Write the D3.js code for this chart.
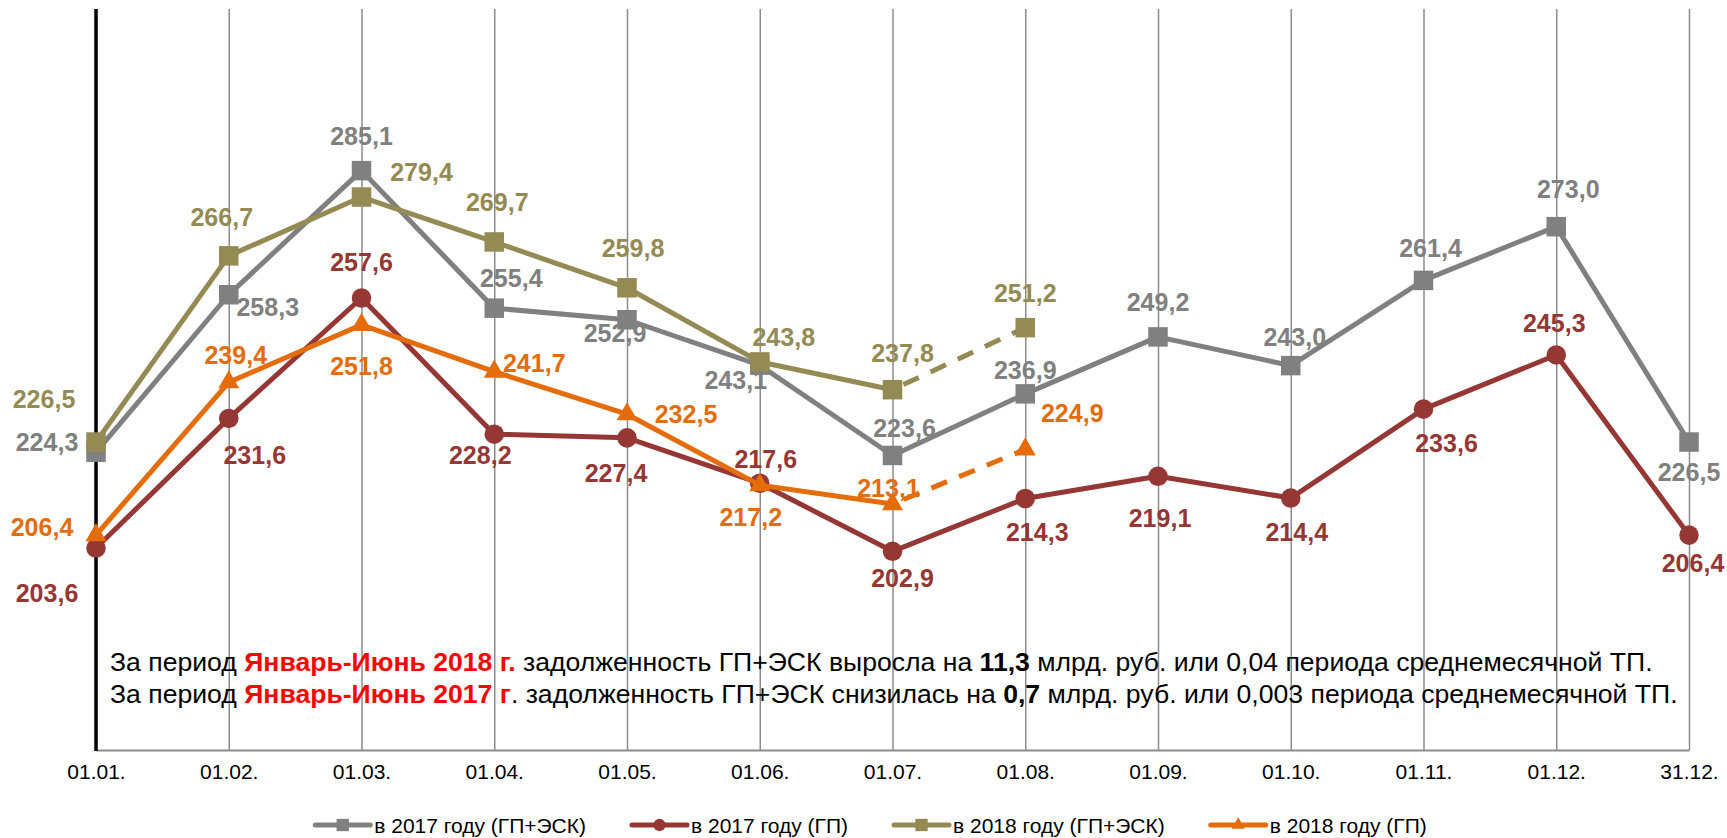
<!DOCTYPE html>
<html>
<head>
<meta charset="utf-8">
<script src="https://cdn.jsdelivr.net/npm/d3@7"></script>
<style>
  body { margin: 0; background: #fff; }
  svg { display: block; font-family: 'Liberation Sans', Arial, sans-serif; }
</style>
</head>
<body>
<svg id="chart" width="1727" height="838"></svg>
<script>
// dates on the x axis
const dates = ['01.01.', '01.02.', '01.03.', '01.04.', '01.05.', '01.06.', '01.07.', '01.08.', '01.09.', '01.10.', '01.11.', '01.12.', '31.12.']

// debt values, bln rub
const total2017 = [224.3, 258.3, 285.1, 255.4, 252.9, 243.1, 223.6, 236.9, 249.2, 243.0, 261.4, 273.0, 226.5]
const gp2017 = [203.6, 231.6, 257.6, 228.2, 227.4, 217.6, 202.9, 214.3, 219.1, 214.4, 233.6, 245.3, 206.4]
const total2018 = [226.5, 266.7, 279.4, 269.7, 259.8, 243.8, 237.8, 251.2]
const gp2018 = [206.4, 239.4, 251.8, 241.7, 232.5, 217.2, 213.1, 224.9]

const legendNames = ['в 2017 году (ГП+ЭСК)', 'в 2017 году (ГП)', 'в 2018 году (ГП+ЭСК)', 'в 2018 году (ГП)']

// where each value label sits relative to its point (px)
const labelOffsets = {
  total2017: [[-49, -10], [39, 12], [0, -35], [17, -30], [-12, 13], [-24, 15], [12, -27], [0, -24], [0, -35], [4, -29], [7, -32], [12, -38], [0, 30]],
  gp2017: [[-49, 45], [26, 37], [0, -36], [-14, 21], [-11, 35], [6, -24], [10, 27], [12, 33], [2, 42], [6, 34], [23, 34], [-2, -32], [4, 28]],
  total2018: [[-52, -43], [-7, -39], [60, -25], [3, -40], [6, -40], [24, -25], [10, -37], [0, -35]],
  gp2018: [[-54, -8], [7, -27], [0, 41], [40, -9], [59, 0], [-9, 32], [-4, -16], [47, -36]],
}

const series = [
  { key: 'total2017', values: total2017, color: '#808080', symbol: d3.symbolSquare, size: 380 },
  { key: 'gp2017', values: gp2017, color: '#953735', symbol: d3.symbolCircle, size: 300 },
  { key: 'total2018', values: total2018, color: '#948A54', symbol: d3.symbolSquare, size: 380, dashFrom: 6 },
  { key: 'gp2018', values: gp2018, color: '#E46C0A', symbol: d3.symbolTriangle, size: 190, dashFrom: 6 },
]

const svg = d3.select('#chart')
const plotTop = 9, plotBottom = 750, plotLeft = 96, plotRight = 1689

const x = d3.scalePoint().domain(dates).range([plotLeft, plotRight])
const y = d3.scaleLinear().domain([160, 320]).range([plotBottom, plotTop])

// vertical gridlines + category axis
const xAxis = svg
  .append('g')
  .attr('transform', `translate(0,${plotBottom})`)
  .call(d3.axisBottom(x).tickSize(-(plotBottom - plotTop)).tickSizeOuter(0).tickPadding(14))
xAxis.select('.domain').attr('stroke', '#8c8c8c').attr('stroke-width', 2)
xAxis.selectAll('.tick line').attr('stroke', '#8c8c8c').attr('stroke-width', 1.5)
xAxis
  .selectAll('.tick text')
  .attr('font-family', "'Liberation Sans', Arial, sans-serif")
  .attr('font-size', 21)
  .attr('fill', '#000')

// the black value axis line on the left
svg
  .append('line')
  .attr('x1', plotLeft)
  .attr('x2', plotLeft)
  .attr('y1', plotTop)
  .attr('y2', plotBottom + 1)
  .attr('stroke', '#000')
  .attr('stroke-width', 3.5)

const line = d3
  .line()
  .x((d) => x(d.date))
  .y((d) => y(d.value))

series.forEach((s) => {
  const pts = s.values.map((v, i) => ({ date: dates[i], value: v }))
  const solid = s.dashFrom != null ? pts.slice(0, s.dashFrom + 1) : pts
  svg
    .append('path')
    .datum(solid)
    .attr('d', line)
    .attr('fill', 'none')
    .attr('stroke', s.color)
    .attr('stroke-width', 5)
    .attr('stroke-linejoin', 'round')
  if (s.dashFrom != null) {
    svg
      .append('path')
      .datum(pts.slice(s.dashFrom))
      .attr('d', line)
      .attr('fill', 'none')
      .attr('stroke', s.color)
      .attr('stroke-width', 5)
      .attr('stroke-dasharray', '17,13')
      .attr('stroke-dashoffset', -12)
  }
  svg
    .append('g')
    .selectAll('path')
    .data(pts)
    .enter()
    .append('path')
    .attr('d', d3.symbol().type(s.symbol).size(s.size))
    .attr('transform', (d) => `translate(${x(d.date)},${y(d.value)})`)
    .attr('fill', s.color)
})

// value labels
series.forEach((s) => {
  const offs = labelOffsets[s.key]
  svg
    .append('g')
    .selectAll('text')
    .data(s.values)
    .enter()
    .append('text')
    .attr('x', (d, i) => x(dates[i]) + offs[i][0])
    .attr('y', (d, i) => y(d) + offs[i][1])
    .attr('text-anchor', 'middle')
    .attr('dominant-baseline', 'central')
    .attr('font-size', 25)
    .attr('font-weight', 'bold')
    .attr('fill', s.color)
    .text((d) => d.toFixed(1).replace('.', ','))
})

// annotation
const notes = [
  [
    ['За период ', false, '#000'],
    ['Январь-Июнь 2018 г.', true, '#FF0000'],
    [' задолженность ГП+ЭСК выросла на ', false, '#000'],
    ['11,3', true, '#000'],
    [' млрд. руб. или 0,04 периода среднемесячной ТП.', false, '#000'],
  ],
  [
    ['За период ', false, '#000'],
    ['Январь-Июнь 2017 г', true, '#FF0000'],
    ['. задолженность ГП+ЭСК снизилась на ', false, '#000'],
    ['0,7', true, '#000'],
    [' млрд. руб. или 0,003 периода среднемесячной ТП.', false, '#000'],
  ],
]
notes.forEach((parts, li) => {
  const t = svg
    .append('text')
    .attr('x', 110)
    .attr('y', 662 + li * 32)
    .attr('dominant-baseline', 'central')
    .attr('font-size', 26.6)
  parts.forEach(([txt, bold, color]) => {
    t.append('tspan')
      .attr('font-weight', bold ? 'bold' : 'normal')
      .attr('fill', color)
      .text(txt)
  })
})

// legend
const legend = svg.append('g')
let lx = 0
series.forEach((s, i) => {
  const g = legend.append('g').attr('transform', `translate(${lx},0)`)
  g.append('line')
    .attr('x1', 0)
    .attr('x2', 55)
    .attr('stroke', s.color)
    .attr('stroke-width', 5)
    .attr('stroke-linecap', 'round')
  g.append('path')
    .attr('d', d3.symbol().type(s.symbol).size(s.size * 0.4))
    .attr('transform', 'translate(27.5,0)')
    .attr('fill', s.color)
  const txt = g
    .append('text')
    .attr('x', 59)
    .attr('dominant-baseline', 'central')
    .attr('font-size', 21)
    .attr('fill', '#000')
    .text(legendNames[i])
  lx += 59 + txt.node().getComputedTextLength() + 46
})
const legendWidth = lx - 46
legend.attr('transform', `translate(${871 - legendWidth / 2},825)`)
</script>
</body>
</html>
